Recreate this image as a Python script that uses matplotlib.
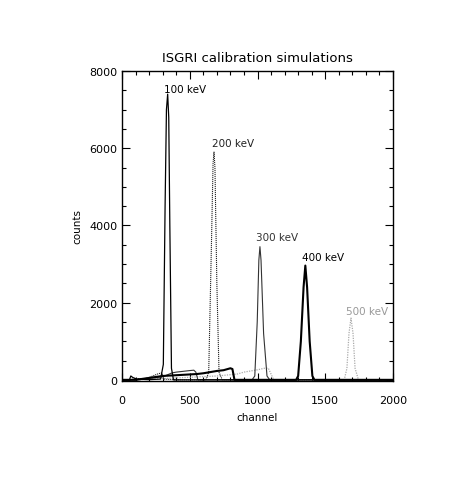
import matplotlib
matplotlib.use("Agg")
import matplotlib.pyplot as plt
from matplotlib.ticker import MultipleLocator

# spectra (channel, counts), one polyline per line energy
ch_100 = [0, 55, 65, 80, 110, 200, 285, 305, 318, 328, 337, 345, 353, 365, 380, 2000]
cnt_100 = [0, 0, 100, 60, 20, 5, 20, 400, 4500, 7000, 7400, 6800, 4000, 300, 0, 0]

ch_200 = [0, 60, 100, 150, 200, 240, 270, 295, 308, 400, 620, 640, 660, 672, 679, 686, 700, 716, 740, 2000]
cnt_200 = [0, 0, 30, 20, 60, 120, 160, 180, 20, 0, 0, 200, 3500, 5600, 5900, 5500, 2500, 200, 0, 0]

ch_300 = [0, 100, 200, 300, 370, 400, 450, 500, 530, 545, 560, 960, 980, 998, 1010, 1018, 1026, 1045, 1070, 1090, 2000]
cnt_300 = [0, 0, 40, 80, 180, 200, 220, 240, 250, 200, 0, 0, 100, 1500, 3100, 3450, 3100, 1200, 100, 0, 0]

ch_400 = [0, 100, 300, 550, 600, 650, 700, 750, 800, 815, 830, 1285, 1300, 1320, 1340, 1353, 1366, 1385, 1405, 1420, 2000]
cnt_400 = [0, 0, 100, 150, 170, 200, 230, 250, 300, 280, 0, 0, 100, 1000, 2400, 2960, 2400, 1000, 100, 0, 0]

ch_500 = [0, 100, 400, 700, 850, 900, 950, 1000, 1050, 1080, 1100, 1120, 1640, 1660, 1675, 1690, 1705, 1720, 1745, 2000]
cnt_500 = [0, 0, 50, 100, 150, 200, 230, 260, 300, 300, 150, 0, 0, 300, 1200, 1600, 1200, 300, 0, 0]

labels = ["100 keV", "200 keV", "300 keV", "400 keV", "500 keV"]
label_x = [310, 662, 990, 1330, 1655]
label_y = [7540, 6140, 3700, 3190, 1790]

font = ["DejaVu Sans"]

fig = plt.figure(figsize=(4.71, 4.85), dpi=100)
ax = fig.add_axes([122/471, 1 - 382/485, 271/471, 310/485])

ax.plot(ch_500, cnt_500, color="#aaaaaa", lw=0.9, ls=(0, (1, 1)))
ax.plot(ch_300, cnt_300, color="#333333", lw=0.8)
ax.plot(ch_200, cnt_200, color="#222222", lw=0.8, ls=(0, (1, 0.8)))
ax.plot(ch_100, cnt_100, color="black", lw=0.9)
ax.plot(ch_400, cnt_400, color="black", lw=1.5)

label_colors = ["black", "#222222", "#333333", "black", "#999999"]
for txt, lx, ly, c in zip(labels, label_x, label_y, label_colors):
    ax.text(lx, ly, txt, fontsize=7.5, color=c, va="center", ha="left", family=font)

ax.set_xlim(0, 2000)
ax.set_ylim(-30, 8000)
ax.xaxis.set_major_locator(MultipleLocator(500))
ax.xaxis.set_minor_locator(MultipleLocator(100))
ax.yaxis.set_major_locator(MultipleLocator(2000))
ax.yaxis.set_minor_locator(MultipleLocator(500))
ax.tick_params(which="both", direction="in", top=True, right=True, labelsize=8, width=0.8)
ax.tick_params(which="major", length=6)
ax.tick_params(which="minor", length=3)
ax.tick_params(axis="x", which="major", pad=10)
ax.tick_params(axis="y", which="major", pad=3.5)
for sp in ax.spines.values():
    sp.set_linewidth(1.0)

ax.set_title("ISGRI calibration simulations", fontsize=9.5, pad=7, family=font)
ax.set_xlabel("channel", fontsize=7.5, labelpad=5, family=font)
ax.set_ylabel("counts", fontsize=7.5, labelpad=5, family=font)

fig.savefig("out.png", dpi=100)
